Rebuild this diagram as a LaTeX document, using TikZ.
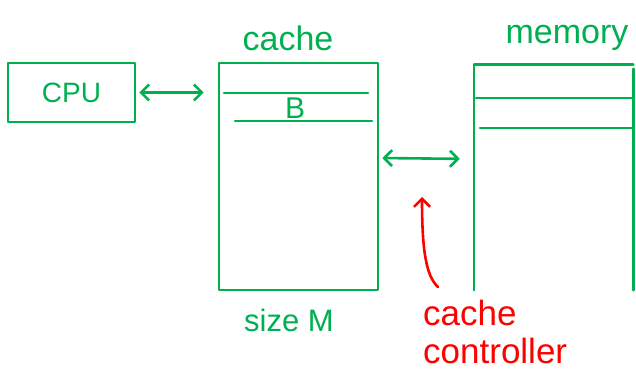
\documentclass[tikz,border=0pt]{standalone}
\usepackage{fontspec}
\setmainfont{Liberation Sans}
\usetikzlibrary{arrows.meta,calc}
\definecolor{pen}{RGB}{0,176,80}
\definecolor{redpen}{RGB}{255,0,0}
\begin{document}
\begin{tikzpicture}[x=1pt,y=-1pt,line cap=round,line join=round,
  ink/.style={draw=pen, line width=2.6pt},
  redink/.style={draw=redpen, line width=2.6pt},
  lbl/.style={text=pen, font=\fontsize{34}{36}\selectfont, inner sep=0pt},
  barb/.tip={Straight Barb[length=8pt,width=16pt]},
  dbl/.style={ink, barb-barb}]
\useasboundingbox (0,0) rectangle (636,385);
% CPU
\node[ink, minimum width=127pt, minimum height=59pt, inner sep=0pt,
      text=pen, font=\fontsize{28}{30}\selectfont] (cpu) at (71.5,92.5) {CPU};
% cache
\node[ink, minimum width=159pt, minimum height=227pt, inner sep=0pt] (cache) at (298.5,176.5) {};
\draw[ink] (224,93) -- (368,93);
\draw[ink] (235,121) -- (372,121);
\node[lbl, font=\fontsize{30}{32}\selectfont] (b) at (295,108) {B};
\node[lbl] (cachelbl) at (288,38) {cache};
\node[lbl, font=\fontsize{31}{33}\selectfont] (size) at (289,320) {size M};
% memory
\node[minimum width=159pt, minimum height=225pt, inner sep=0pt] (mem) at (553.5,177.5) {};
\draw[ink] (mem.south west) -- (mem.north west) -- (mem.north east);
\draw[ink] ($(mem.north east)+(0,4)$) -- (mem.south east);
\draw[ink] (476,98) -- (632,98);
\draw[ink] (480,128) -- (632,128);
\node[lbl] (memlbl) at (567,38) {memory};
% connectors
\draw[dbl, shorten <=3pt, shorten >=14pt] (cpu.east) -- (cache.west |- cpu.east);
\draw[dbl, shorten <=3pt, shorten >=14pt] ($(cache.east)+(0,-18.5)$) -- ($(mem.west)+(0,-18.5)$);
% cache controller
\node[text=redpen, font=\fontsize{35}{38}\selectfont, align=left, anchor=north west, inner sep=0pt] (ctrl) at (423,300) {cache\\controller};
\coordinate (rtail) at (438,287);
\coordinate (rhead) at (422,197);
\draw[redink, -{Straight Barb[length=8pt,width=16pt]}] (rtail) .. controls (426,276) and (422,250) .. (rhead);
\end{tikzpicture}
\end{document}
